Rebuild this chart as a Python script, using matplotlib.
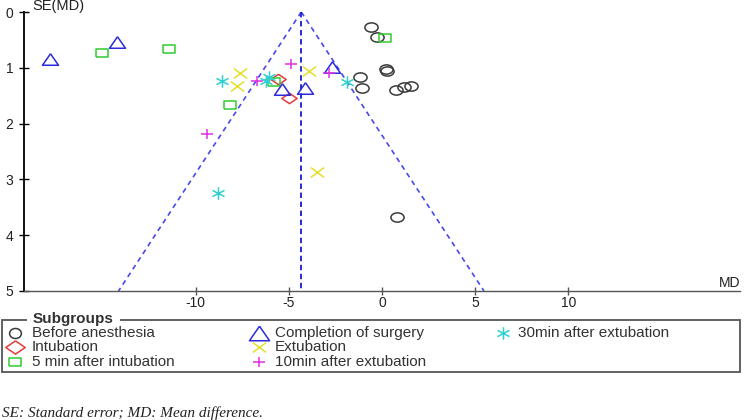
import numpy as np
import matplotlib.pyplot as plt
from matplotlib.lines import Line2D
from matplotlib.patches import Rectangle
from matplotlib.path import Path

plt.rcParams['font.family'] = ['Liberation Sans', 'DejaVu Sans']
plt.rcParams['axes.unicode_minus'] = False

W, H = 744, 420  # figure size in pixels

# pooled estimate and funnel limits
pooled_md = -4.33
se_lines = [0, 5]

# subgroups: md values, se values
before_md = [-0.6, -0.27, 0.2, 0.25, -1.18, -1.07, 0.73, 1.17, 1.55, 0.8]
before_se = [0.27, 0.44, 1.02, 1.05, 1.16, 1.37, 1.40, 1.34, 1.32, 3.67]

intub_md = [-5.6, -5.0]
intub_se = [1.2, 1.55]

min5_md = [-15.0, -11.4, -8.13, -5.78, 0.16]
min5_se = [0.73, 0.66, 1.67, 1.25, 0.46]

compl_md = [-17.8, -14.2, -2.67, -5.35, -4.12]
compl_se = [0.85, 0.53, 0.98, 1.38, 1.36]

extub_md = [-7.6, -7.8, -3.9, -3.47]
extub_se = [1.1, 1.33, 1.06, 2.87]

min10_md = [-4.87, -2.83, -9.4, -6.7]
min10_se = [0.93, 1.09, 2.19, 1.23]

min30_md = [-8.6, -6.04, -6.2, -1.87, -8.77]
min30_se = [1.24, 1.16, 1.24, 1.25, 3.25]


def squash(verts, codes=None, fy=0.72):
    # markers in the original are a bit wider than tall
    v = np.array(verts, dtype=float) * [1, fy]
    return Path(v, codes)


M, L = Path.MOVETO, Path.LINETO
circ = Path.unit_circle()
mk_circle = squash(circ.vertices, circ.codes, 0.7)
mk_circle_leg = squash(circ.vertices, circ.codes, 0.85)
mk_tri = squash([(0, 1), (-1, -1), (1, -1), (0, 1)], [M, L, L, L], 0.72)
mk_sq = squash([(-1, -1), (1, -1), (1, 1), (-1, 1), (-1, -1)], [M, L, L, L, L], 0.68)
mk_dia = squash([(0, 1), (1, 0), (0, -1), (-1, 0), (0, 1)], [M, L, L, L, L], 0.68)
mk_x = squash([(-1, -1), (1, 1), (-1, 1), (1, -1)], [M, L, M, L], 0.75)
mk_plus = squash([(-1, 0), (1, 0), (0, -1), (0, 1)], [M, L, M, L], 0.85)
a = np.cos(np.radians(30)); b = np.sin(np.radians(30))
mk_star = squash([(0, -1), (0, 1), (-a, -b), (a, b), (-a, b), (a, -b)], [M, L, M, L, M, L], 0.9)

groups = [
    # label, md, se, marker, colour, size in plot, legend marker, legend size
    ("Before anesthesia", before_md, before_se, mk_circle, '#3a3a3a', 9.5, mk_circle_leg, 8.5),
    ("Intubation", intub_md, intub_se, mk_dia, '#e03c3c', 11, mk_dia, 14),
    ("5 min after intubation", min5_md, min5_se, mk_sq, '#30cc30', 9, mk_sq, 8.5),
    ("Completion of surgery", compl_md, compl_se, mk_tri, '#2b2bd9', 11.5, mk_tri, 14.5),
    ("Extubation", extub_md, extub_se, mk_x, '#e6de2a', 9.5, mk_x, 9.5),
    ("10min after extubation", min10_md, min10_se, mk_plus, '#e030e0', 9, mk_plus, 8.5),
    ("30min after extubation", min30_md, min30_se, mk_star, '#30d0d0', 9, mk_star, 9),
]

fig = plt.figure(figsize=(W / 100, H / 100), dpi=100)
ax = fig.add_axes([24 / W, (H - 291) / H, (740 - 24) / W, (291 - 12) / H])

# funnel
se_arr = np.array(se_lines)
ax.plot(pooled_md - 1.96 * se_arr, se_arr, ls=(0, (3, 2.5)), color='#4848ee', lw=1.2)
ax.plot(pooled_md + 1.96 * se_arr, se_arr, ls=(0, (3, 2.5)), color='#4848ee', lw=1.2)
ax.plot([pooled_md, pooled_md], se_lines, ls=(0, (3, 2)), color='#1a1acc', lw=1.3)

for name, md, se, mk, col, ms, lmk, lms in groups:
    ax.plot(md, se, ls='none', marker=mk, ms=ms, mfc='none', mec=col, mew=1.1)

ax.set_xlim(-19.2, 19.2)
ax.set_ylim(5, 0)
ax.set_xticks([-10, -5, 0, 5, 10])
ax.set_yticks([0, 1, 2, 3, 4, 5])
ax.spines['top'].set_visible(False)
ax.spines['right'].set_visible(False)
ax.spines['left'].set_linewidth(1.4)
ax.spines['left'].set_color('#111111')
ax.spines['bottom'].set_linewidth(1.0)
ax.spines['bottom'].set_color('#555555')
ax.tick_params(direction='inout', width=1, labelsize=10, labelcolor='#222222')
ax.tick_params(axis='x', length=6, pad=0.5, color='#555555')
ax.tick_params(axis='y', length=7, pad=4)

fig.text(32 / W, 1 - 6 / H, "SE(MD)", fontsize=10.5, va='center', ha='left', color='#222222')
fig.text(740 / W, 1 - 283 / H, "MD", fontsize=10, va='center', ha='right', color='#222222')

# legend box, title sits on the border
fig.patches.append(Rectangle((2 / W, 1 - 372 / H), 738 / W, 52 / H, transform=fig.transFigure,
                             fill=False, ec='#555555', lw=1.3))
fig.text(33 / W, 1 - 319 / H, "Subgroups", fontsize=11, fontweight='bold', va='center', ha='left',
         color='#333333', bbox=dict(fc='white', ec='none', boxstyle='square,pad=0.4'))

col_mark_x = [15, 259, 503]
col_text_x = [32, 275, 518]
row_y = [333, 347, 362]
for i, (name, md, se, mk, col, ms, lmk, lms) in enumerate(groups):
    c, r = divmod(i, 3)
    fig.add_artist(Line2D([col_mark_x[c] / W], [1 - row_y[r] / H], transform=fig.transFigure,
                          ls='none', marker=lmk, ms=lms, mfc='none', mec=col, mew=1.1))
    fig.text(col_text_x[c] / W, 1 - row_y[r] / H, name, fontsize=11, va='center', ha='left',
             color='#333333')

fig.text(2 / W, 1 - 413 / H, "SE: Standard error; MD: Mean difference.", fontsize=11,
         family='Liberation Serif', style='italic', va='center', ha='left', color='#222222')

fig.savefig('out.png', dpi=100)
